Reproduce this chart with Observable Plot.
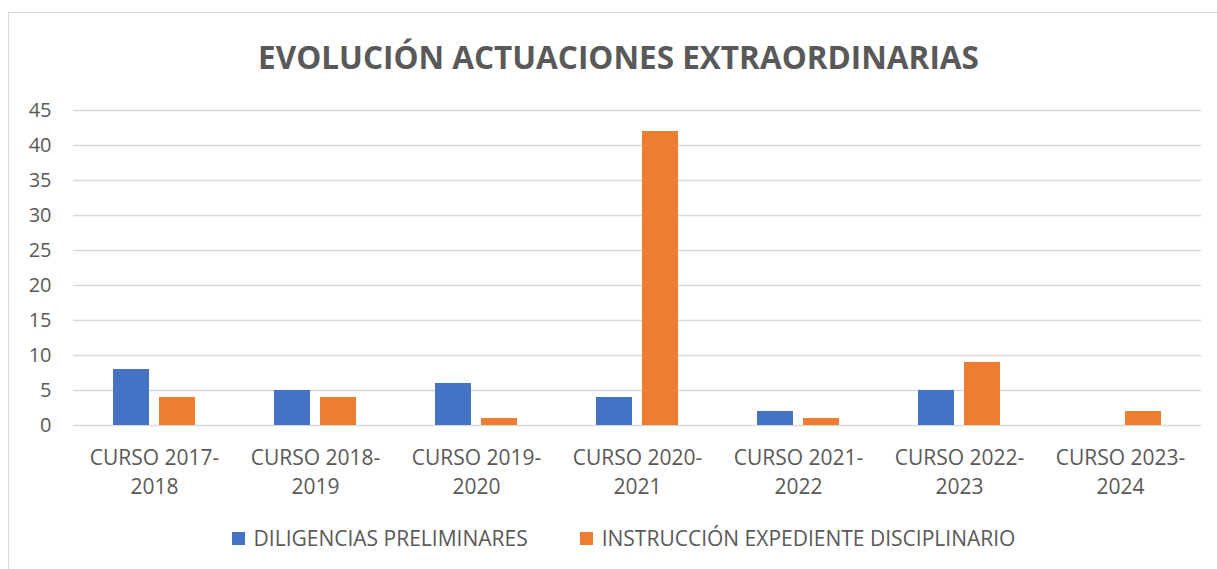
<!DOCTYPE html>
<html>
<head>
<meta charset="utf-8">
<script src="https://cdn.jsdelivr.net/npm/d3@7"></script>
<script src="https://cdn.jsdelivr.net/npm/@observablehq/plot@0.6"></script>
<style>
  html, body { margin: 0; padding: 0; background: #fff; }
  body { width: 1217px; height: 569px; overflow: hidden; position: relative; font-family: "Open Sans", sans-serif; color: #595959; }
  #frame { position: absolute; left: 8px; top: 12px; width: 1220px; height: 600px; border: 1px solid #d9d9d9; box-sizing: border-box; }
  #title { position: absolute; left: 10px; top: 2px; width: 1217px; height: 95px; text-align: center; font-weight: bold; font-size: 31.5px; line-height: 110px; white-space: nowrap; }
  #chart { position: absolute; left: 0; top: 95px; }
  #legend { position: absolute; left: 15px; top: 526px; width: 1217px; height: 24px; display: flex; justify-content: center; align-items: center; font-size: 21px; white-space: nowrap; }
  .item { display: flex; align-items: center; margin: 0 26px; }
  .sw { width: 13px; height: 13px; margin-right: 9px; }
</style>
</head>
<body>
<div id="frame"></div>
<div id="title">EVOLUCIÓN ACTUACIONES EXTRAORDINARIAS</div>
<div id="chart"></div>
<div id="legend"></div>
<script>
const cursos = ["CURSO 2017-2018", "CURSO 2018-2019", "CURSO 2019-2020", "CURSO 2020-2021", "CURSO 2021-2022", "CURSO 2022-2023", "CURSO 2023-2024"];
const series = ["DILIGENCIAS PRELIMINARES", "INSTRUCCIÓN EXPEDIENTE DISCIPLINARIO"];
const diligencias = [8, 5, 6, 4, 2, 5, null];
const instruccion = [4, 4, 1, 42, 1, 9, 2];
const colores = ["#4472C4", "#ED7D31"];
const yTicks = [0, 5, 10, 15, 20, 25, 30, 35, 40, 45];

const dataDil = cursos.map((c, i) => ({curso: c, serie: series[0], valor: diligencias[i]})).filter(d => d.valor != null);
const dataIns = cursos.map((c, i) => ({curso: c, serie: series[1], valor: instruccion[i]})).filter(d => d.valor != null);

const chart = Plot.plot({
  width: 1217,
  height: 415,
  marginTop: 15,
  marginBottom: 85,
  marginLeft: 73,
  marginRight: 16,
  style: {fontFamily: "'Open Sans', sans-serif", color: "#595959", background: "transparent"},
  x: {domain: cursos, paddingInner: 0.49, paddingOuter: 0.245, label: null},
  y: {domain: [0, 45], ticks: yTicks, label: null},
  color: {domain: series, range: colores},
  marks: [
    Plot.gridY(yTicks, {stroke: "#d9d9d9", strokeOpacity: 1, strokeWidth: 1.5}),
    Plot.axisY(yTicks, {tickSize: 0, tickPadding: 22, fontSize: 20, fill: "#595959", label: null}),
    Plot.axisX({anchor: "bottom", tickSize: 0, tickPadding: 19, fontSize: 21, lineHeight: 1.38, fill: "#595959", label: null,
      tickFormat: d => d.replace("-", "-\n")}),
    Plot.barY(dataDil, {x: "curso", y: "valor", fill: "serie", insetRight: 46}),
    Plot.barY(dataIns, {x: "curso", y: "valor", fill: "serie", insetLeft: 46})
  ]
});
document.getElementById("chart").appendChild(chart);

const legend = document.getElementById("legend");
series.forEach((s, i) => {
  const it = document.createElement("div");
  it.className = "item";
  const sw = document.createElement("span");
  sw.className = "sw";
  sw.style.background = colores[i];
  const t = document.createElement("span");
  t.textContent = s;
  it.appendChild(sw); it.appendChild(t);
  legend.appendChild(it);
});
</script>
</body>
</html>
